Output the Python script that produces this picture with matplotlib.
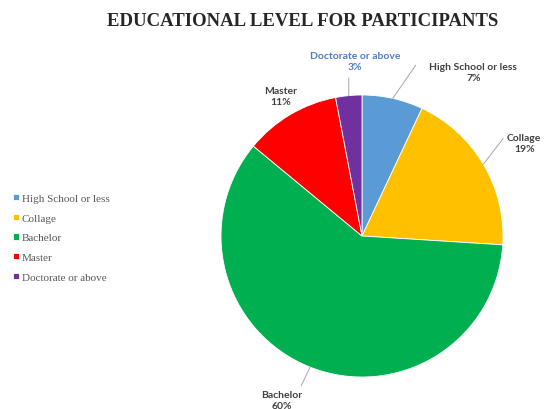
import numpy as np
import matplotlib
matplotlib.use("Agg")
import matplotlib.pyplot as plt

# education levels and their share of participants (%)
niveles = ["High School or less", "Collage", "Bachelor", "Master", "Doctorate or above"]
porcentajes = [7, 19, 60, 11, 3]
colores = ["#5B9BD5", "#FFC000", "#00B050", "#FF0000", "#7030A0"]

# label placement (pie data units) and whether a leader line is drawn
pos_etiquetas = [(0.79, 1.16), (1.15, 0.66), (-0.57, -1.16), (-0.58, 0.99), (-0.05, 1.24)]
con_linea = [True, True, True, False, True]
fin_linea = [(0.38, 1.21), (1.0, 0.69), (-0.43, -1.06), None, (-0.094, 1.12)]
color_texto = ["#404040", "#404040", "#404040", "#404040", "#4F7CC0"]

W, H = 545, 410
fig = plt.figure(figsize=(W / 100, H / 100), dpi=100)
fig.patch.set_facecolor("white")

cx, cy, r = 362, 237, 141
ax = fig.add_axes([(cx - r) / W, (H - cy - r) / H, 2 * r / W, 2 * r / H])
wedges, _ = ax.pie(porcentajes, colors=colores, startangle=90, counterclock=False,
                   radius=1, wedgeprops=dict(edgecolor="white", linewidth=0.6))
ax.set_xlim(-1, 1)
ax.set_ylim(-1, 1)
ax.axis("off")

# data labels: name on top, percent below
acum = np.cumsum([0] + porcentajes[:-1])
for i, nombre in enumerate(niveles):
    x, y = pos_etiquetas[i]
    ax.text(x, y, f"{nombre}\n{porcentajes[i]}%", ha="center", va="center",
            fontsize=7.5, fontweight="bold", family="Lato", color=color_texto[i],
            linespacing=1.3, clip_on=False)
    if con_linea[i]:
        medio = (acum[i] + porcentajes[i] / 2) / 100 * 2 * np.pi
        ex, ey = np.sin(medio), np.cos(medio)
        lx, ly = fin_linea[i]
        ax.plot([ex, lx], [ey, ly], color="#A6A6A6", lw=0.7, clip_on=False)

fig.text(303 / W, 1 - 22 / H, "EDUCATIONAL LEVEL FOR PARTICIPANTS", ha="center", va="center",
         fontsize=13.5, fontweight="bold", family="Liberation Serif", color="#262626")

leg = fig.legend(wedges, niveles, loc="upper left", bbox_to_anchor=(13 / W, 1 - 195 / H),
                 frameon=False, borderpad=0, borderaxespad=0, handlelength=0.5,
                 handleheight=0.5, handletextpad=0.3, labelspacing=0.95,
                 prop={"family": "Liberation Serif", "size": 8})
for t in leg.get_texts():
    t.set_color("#595959")

fig.savefig("out.png", dpi=100)
